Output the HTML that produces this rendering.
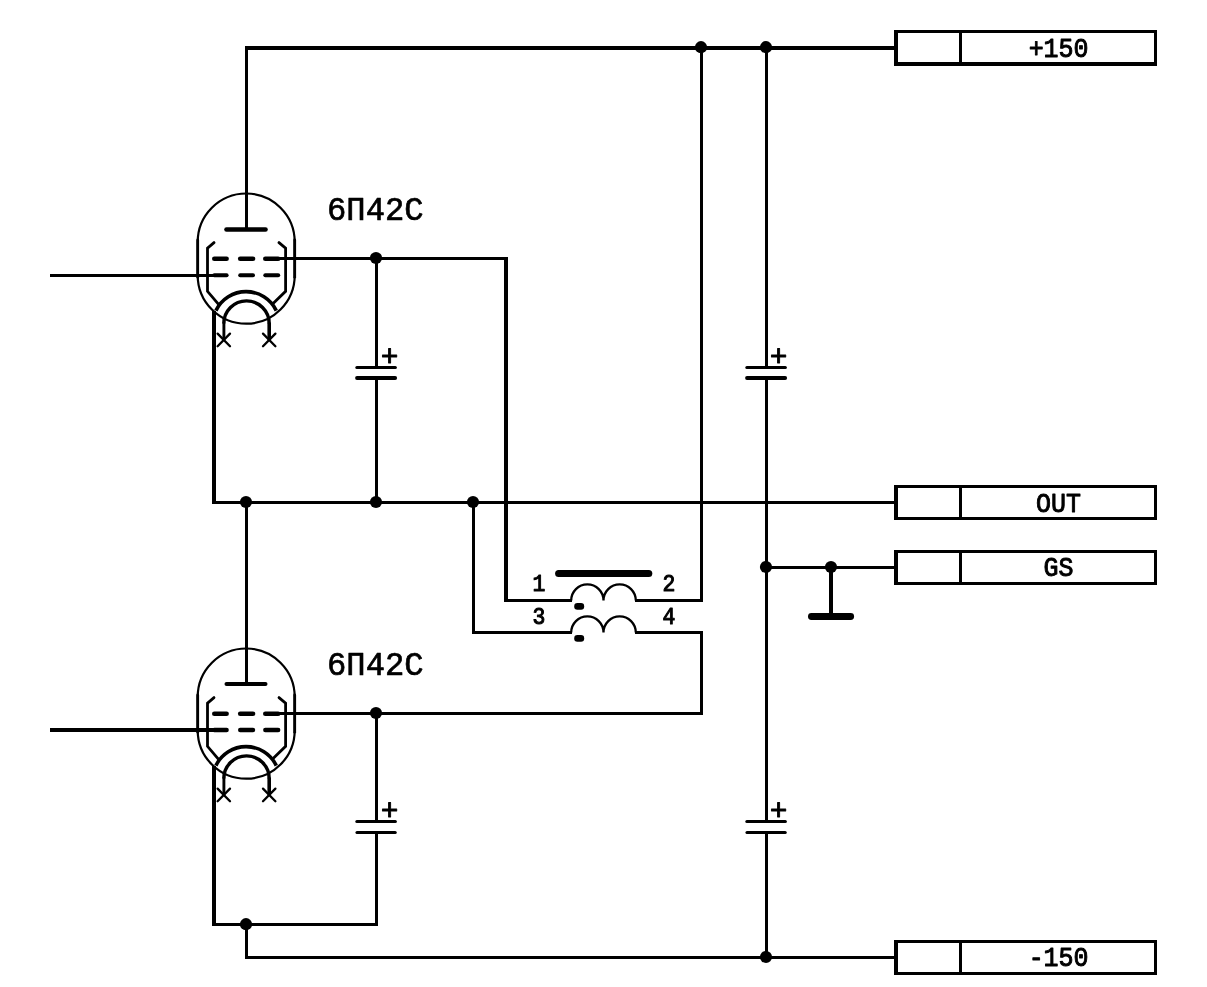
<!DOCTYPE html>
<html lang="ru">
<head>
<meta charset="utf-8">
<title>6П42С</title>
<style>
html,body{margin:0;padding:0;background:#fff;}
body{width:1207px;height:987px;overflow:hidden;}
svg{display:block;filter:grayscale(1);}
.w rect{fill:#000;stroke:none;shape-rendering:crispEdges;}
.s *{fill:none;stroke:#000;}
.f *{fill:#000;stroke:none;}
.t{font-family:"Liberation Mono",monospace;text-anchor:middle;fill:#000;stroke:#000;stroke-linejoin:round;}
</style>
</head>
<body>
<svg width="1207" height="987" viewBox="0 0 1207 987">
<rect x="0" y="0" width="1207" height="987" fill="#fff"/>
<g class="w">
<rect x="245" y="46" width="651" height="4"/>
<rect x="280" y="257" width="228" height="3"/>
<rect x="50" y="274" width="166" height="3"/>
<rect x="212" y="501" width="684" height="3"/>
<rect x="765" y="566" width="131" height="3"/>
<rect x="504" y="599" width="68" height="3"/>
<rect x="635" y="599" width="68" height="3"/>
<rect x="472" y="631" width="100" height="3"/>
<rect x="635" y="631" width="68" height="3"/>
<rect x="280" y="712" width="423" height="3"/>
<rect x="50" y="728" width="166" height="4"/>
<rect x="212" y="923" width="166" height="3"/>
<rect x="245" y="956" width="651" height="3"/>
<rect x="212" y="311" width="4" height="193"/>
<rect x="212" y="766" width="4" height="160"/>
<rect x="245" y="46" width="3" height="184"/>
<rect x="245" y="501" width="3" height="184"/>
<rect x="245" y="923" width="3" height="36"/>
<rect x="375" y="257" width="3" height="110"/>
<rect x="375" y="378" width="3" height="126"/>
<rect x="375" y="712" width="3" height="109"/>
<rect x="375" y="832" width="3" height="94"/>
<rect x="472" y="501" width="3" height="133"/>
<rect x="504" y="257" width="4" height="345"/>
<rect x="700" y="46" width="3" height="556"/>
<rect x="700" y="631" width="3" height="84"/>
<rect x="765" y="46" width="3" height="321"/>
<rect x="765" y="378" width="3" height="443"/>
<rect x="765" y="832" width="3" height="127"/>
<rect x="829" y="566" width="4" height="50"/>
<rect x="894" y="30" width="263" height="3"/>
<rect x="894" y="62" width="263" height="4"/>
<rect x="894" y="30" width="4" height="36"/>
<rect x="959" y="30" width="3" height="36"/>
<rect x="1154" y="30" width="3" height="36"/>
<rect x="894" y="485" width="263" height="3"/>
<rect x="894" y="517" width="263" height="3"/>
<rect x="894" y="485" width="4" height="35"/>
<rect x="959" y="485" width="3" height="35"/>
<rect x="1154" y="485" width="3" height="35"/>
<rect x="894" y="550" width="263" height="3"/>
<rect x="894" y="582" width="263" height="3"/>
<rect x="894" y="550" width="4" height="35"/>
<rect x="959" y="550" width="3" height="35"/>
<rect x="1154" y="550" width="3" height="35"/>
<rect x="894" y="940" width="263" height="3"/>
<rect x="894" y="972" width="263" height="3"/>
<rect x="894" y="940" width="4" height="35"/>
<rect x="959" y="940" width="3" height="35"/>
<rect x="1154" y="940" width="3" height="35"/>
</g>
<g class="s">
<path d="M197.7,275.2 L197.7,242.0 A48.5,48.5 0 0 1 294.7,242.0 L294.7,275.2 A48.5,48.5 0 0 1 197.7,275.2 Z" stroke-width="2.2"/>
<line x1="197.7" y1="240.0" x2="197.7" y2="277.2" stroke-width="2.8" stroke-linecap="round"/>
<line x1="294.7" y1="240.0" x2="294.7" y2="277.2" stroke-width="2.8" stroke-linecap="round"/>
<line x1="226.5" y1="229.5" x2="265.5" y2="229.5" stroke-width="4.6" stroke-linecap="round"/>
<polyline points="214.0,242.6 207.5,248.2 207.5,291.3 218.6,304.4" stroke-width="2.8" stroke-linejoin="miter" stroke-linecap="round"/>
<polyline points="279.0,242.6 285.6,248.2 285.6,291.3 273.6,303.0" stroke-width="2.8" stroke-linejoin="miter" stroke-linecap="round"/>
<line x1="214.3" y1="258.7" x2="226.6" y2="258.7" stroke-width="4.6" stroke-linecap="round"/>
<line x1="240.2" y1="258.7" x2="253.0" y2="258.7" stroke-width="4.6" stroke-linecap="round"/>
<line x1="265.3" y1="258.7" x2="278.2" y2="258.7" stroke-width="4.6" stroke-linecap="round"/>
<line x1="214.3" y1="275.2" x2="226.6" y2="275.2" stroke-width="4.0" stroke-linecap="round"/>
<line x1="240.2" y1="275.2" x2="253.0" y2="275.2" stroke-width="4.0" stroke-linecap="round"/>
<line x1="265.3" y1="275.2" x2="278.2" y2="275.2" stroke-width="4.0" stroke-linecap="round"/>
<path d="M215.90,310.60 A33.5,33.5 0 0 1 276.30,310.60" stroke-width="3.6"/>
<path d="M223.8,323.6 A22.7,22.7 0 0 1 269.2,323.6" stroke-width="3.4"/>
<line x1="223.9" y1="322.6" x2="223.9" y2="339.6" stroke-width="2.9" stroke-linecap="butt"/>
<line x1="269.2" y1="322.6" x2="269.2" y2="339.6" stroke-width="3.6" stroke-linecap="butt"/>
<line x1="217.60000000000002" y1="333.6" x2="230.0" y2="346.2" stroke-width="2.3" stroke-linecap="round"/>
<line x1="217.60000000000002" y1="346.2" x2="230.0" y2="333.6" stroke-width="2.3" stroke-linecap="round"/>
<line x1="263.0" y1="333.6" x2="275.4" y2="346.2" stroke-width="2.3" stroke-linecap="round"/>
<line x1="263.0" y1="346.2" x2="275.4" y2="333.6" stroke-width="2.3" stroke-linecap="round"/>
<path d="M197.7,730.2 L197.7,697.0 A48.5,48.5 0 0 1 294.7,697.0 L294.7,730.2 A48.5,48.5 0 0 1 197.7,730.2 Z" stroke-width="2.2"/>
<line x1="197.7" y1="695.0" x2="197.7" y2="732.2" stroke-width="2.8" stroke-linecap="round"/>
<line x1="294.7" y1="695.0" x2="294.7" y2="732.2" stroke-width="2.8" stroke-linecap="round"/>
<line x1="226.5" y1="684.1" x2="265.5" y2="684.1" stroke-width="4.0" stroke-linecap="round"/>
<polyline points="214.0,697.6 207.5,703.2 207.5,746.3 218.6,759.4" stroke-width="2.8" stroke-linejoin="miter" stroke-linecap="round"/>
<polyline points="279.0,697.6 285.6,703.2 285.6,746.3 273.6,758.0" stroke-width="2.8" stroke-linejoin="miter" stroke-linecap="round"/>
<line x1="214.3" y1="713.7" x2="226.6" y2="713.7" stroke-width="4.6" stroke-linecap="round"/>
<line x1="240.2" y1="713.7" x2="253.0" y2="713.7" stroke-width="4.6" stroke-linecap="round"/>
<line x1="265.3" y1="713.7" x2="278.2" y2="713.7" stroke-width="4.6" stroke-linecap="round"/>
<line x1="214.3" y1="730.0" x2="226.6" y2="730.0" stroke-width="4.4" stroke-linecap="round"/>
<line x1="240.2" y1="730.0" x2="253.0" y2="730.0" stroke-width="4.4" stroke-linecap="round"/>
<line x1="265.3" y1="730.0" x2="278.2" y2="730.0" stroke-width="4.4" stroke-linecap="round"/>
<path d="M215.90,765.60 A33.5,33.5 0 0 1 276.30,765.60" stroke-width="3.6"/>
<path d="M223.8,778.6 A22.7,22.7 0 0 1 269.2,778.6" stroke-width="3.4"/>
<line x1="223.9" y1="777.6" x2="223.9" y2="794.6" stroke-width="2.9" stroke-linecap="butt"/>
<line x1="269.2" y1="777.6" x2="269.2" y2="794.6" stroke-width="3.6" stroke-linecap="butt"/>
<line x1="217.60000000000002" y1="788.6" x2="230.0" y2="801.2" stroke-width="2.3" stroke-linecap="round"/>
<line x1="217.60000000000002" y1="801.2" x2="230.0" y2="788.6" stroke-width="2.3" stroke-linecap="round"/>
<line x1="263.0" y1="788.6" x2="275.4" y2="801.2" stroke-width="2.3" stroke-linecap="round"/>
<line x1="263.0" y1="801.2" x2="275.4" y2="788.6" stroke-width="2.3" stroke-linecap="round"/>
<line x1="356.8" y1="367.5" x2="395.4" y2="367.5" stroke-width="3.0" stroke-linecap="round"/>
<line x1="357.0" y1="378.0" x2="395.2" y2="378.0" stroke-width="3.8" stroke-linecap="round"/>
<line x1="746.8" y1="367.5" x2="785.4" y2="367.5" stroke-width="3.0" stroke-linecap="round"/>
<line x1="747.0" y1="378.0" x2="785.2" y2="378.0" stroke-width="3.8" stroke-linecap="round"/>
<line x1="356.8" y1="821.5" x2="395.4" y2="821.5" stroke-width="3.0" stroke-linecap="round"/>
<line x1="357.0" y1="832.5" x2="395.2" y2="832.5" stroke-width="3.1" stroke-linecap="round"/>
<line x1="746.8" y1="821.5" x2="785.4" y2="821.5" stroke-width="3.0" stroke-linecap="round"/>
<line x1="747.0" y1="832.5" x2="785.2" y2="832.5" stroke-width="3.1" stroke-linecap="round"/>
<line x1="558.6" y1="573.6" x2="648.8" y2="573.6" stroke-width="7.0" stroke-linecap="round"/>
<line x1="811.4" y1="616.5" x2="850.7" y2="616.5" stroke-width="6.8" stroke-linecap="round"/>
<path d="M571.2,600.5 a16.15,16.15 0 0 1 32.3,0 a16.15,16.15 0 0 1 32.3,0" stroke-width="2.3"/>
<path d="M571.2,632.5 a16.15,16.15 0 0 1 32.3,0 a16.15,16.15 0 0 1 32.3,0" stroke-width="2.3"/>
</g>
<g class="f">
<rect x="574.2" y="603.0" width="10" height="6.8" rx="3.2"/>
<rect x="574.2" y="635.0" width="10" height="6.8" rx="3.2"/>
<circle cx="701" cy="47.2" r="6.1"/>
<circle cx="766" cy="47.2" r="6.1"/>
<circle cx="376" cy="258" r="6.1"/>
<circle cx="246" cy="502" r="6.1"/>
<circle cx="376" cy="502" r="6.1"/>
<circle cx="473" cy="502" r="6.1"/>
<circle cx="766" cy="567" r="6.1"/>
<circle cx="831" cy="567" r="6.1"/>
<circle cx="376" cy="713" r="6.1"/>
<circle cx="246" cy="924.2" r="6.1"/>
<circle cx="766" cy="957" r="6.1"/>
</g>
<g>
<text class="t" transform="translate(1058.6,56.7) scale(0.915,1)" font-size="27.3" stroke-width="0.95">+150</text>
<text class="t" transform="translate(1058.6,511.8) scale(0.915,1)" font-size="27.3" stroke-width="0.95">OUT</text>
<text class="t" transform="translate(1058.6,576.2) scale(0.915,1)" font-size="27.3" stroke-width="0.95">GS</text>
<text class="t" transform="translate(1058.6,966.1) scale(0.915,1)" font-size="27.3" stroke-width="0.95">-150</text>
<text class="t" transform="translate(389.7,366.2) scale(1.0,1)" font-size="29.5" stroke-width="0.9">+</text>
<text class="t" transform="translate(778.7,366.2) scale(1.0,1)" font-size="29.5" stroke-width="0.9">+</text>
<text class="t" transform="translate(389.7,820.3) scale(1.0,1)" font-size="29.5" stroke-width="0.9">+</text>
<text class="t" transform="translate(778.7,820.1) scale(1.0,1)" font-size="29.5" stroke-width="0.9">+</text>
<text class="t" transform="translate(538.8,590.8) scale(0.9,1)" font-size="23.8" stroke-width="1.05">1</text>
<text class="t" transform="translate(668.9,590.8) scale(0.9,1)" font-size="23.8" stroke-width="1.05">2</text>
<text class="t" transform="translate(538.8,623.6) scale(0.9,1)" font-size="23.8" stroke-width="1.05">3</text>
<text class="t" transform="translate(668.9,623.6) scale(0.9,1)" font-size="23.8" stroke-width="1.05">4</text>
<text class="t" transform="translate(375.3,220.2) scale(0.96,1)" font-size="33.5" stroke-width="0.7">6П42С</text>
<text class="t" transform="translate(375.3,675.2) scale(0.96,1)" font-size="33.5" stroke-width="0.7">6П42С</text>
</g>
</svg>
</body>
</html>
